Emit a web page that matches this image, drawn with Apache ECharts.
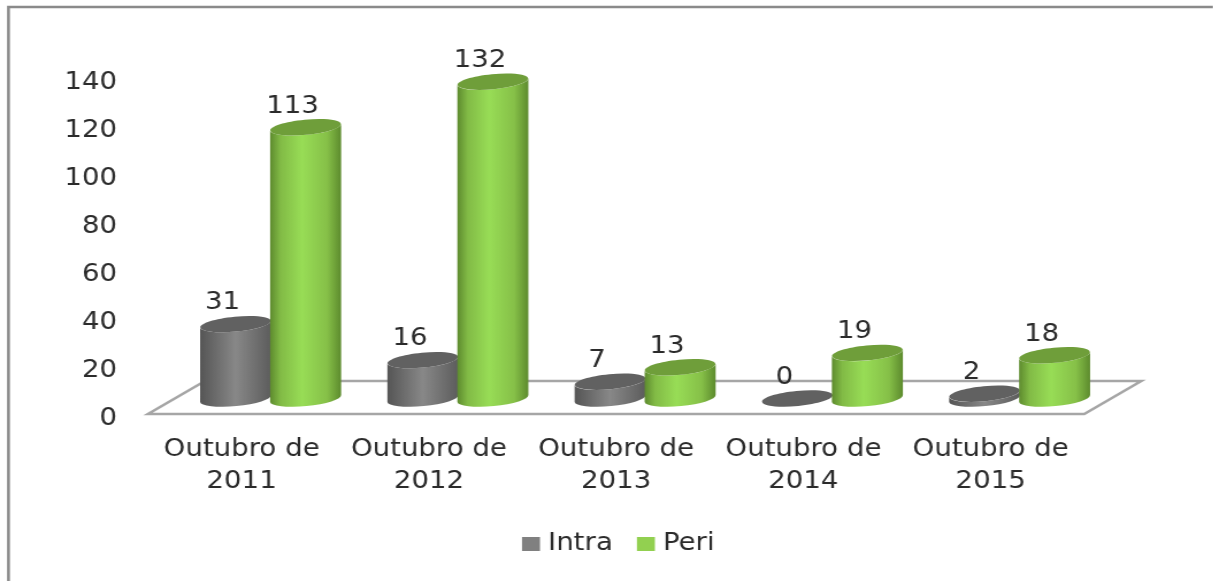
<!DOCTYPE html>
<html><head><meta charset="utf-8">
<style>html,body{margin:0;padding:0;background:#fff;overflow:hidden}
#c{width:1054.8px;height:581px;transform:scaleX(1.15);transform-origin:0 0}</style>
<script src="https://cdn.jsdelivr.net/npm/echarts@6/dist/echarts.min.js"></script>
</head><body><div id="c"></div>
<script>
const categories = ['Outubro de\n2011','Outubro de\n2012','Outubro de\n2013','Outubro de\n2014','Outubro de\n2015'];
const intra = [31,16,7,0,2];
const peri = [113,132,13,19,18];
const FONT = 'DejaVu Sans';
const FS = 24;
const TXT = '#2b2b2b';
const S = 1.15;
const FLOOR_LIFT = 4.5;
const RX = 35.5/S, RY = 7.5, TILT = 3.4, LIFT = 15.5 + FLOOR_LIFT, ROT = 6.3;
const DEPTH_X = 57/S, DEPTH_Y = 33;

function cylinder(xShift, cols){
  return function(params, api){
    const i = api.value(0), v = api.value(1);
    const base = api.coord([i,0]), top = api.coord([i,v]);
    const cx = base[0] + xShift/S, by = base[1]-LIFT, ty = top[1]-LIFT;
    const L = cx-RX, R = cx+RX;
    const children = [];
    if (v > 0) {
      const d = `M${L} ${ty+TILT} L${L} ${by+TILT} A${RX} ${RY} ${-ROT} 0 0 ${R} ${by-TILT} L${R} ${ty-TILT} A${RX} ${RY} ${-ROT} 0 1 ${L} ${ty+TILT} Z`;
      children.push({type:'path', shape:{pathData:d},
        style:{fill:new echarts.graphic.LinearGradient(0,0,1,0,cols.body)}});
    }
    children.push({type:'ellipse', rotation:ROT*Math.PI/180, originX:cx, originY:ty,
      shape:{cx:cx, cy:ty, rx:RX, ry:RY}, style:{fill:cols.top}});
    children.push({type:'text', z2:5, x:cx-13/S, y:ty-21,
      style:{text:String(v), font:FS+'px "'+FONT+'"', fill:TXT, align:'center', verticalAlign:'middle'}});
    return {type:'group', children};
  };
}
const grey = {top:'#616161', body:[{offset:0,color:'#555555'},{offset:.5,color:'#888888'},{offset:1,color:'#5c5c5c'}]};
const green = {top:'#6f9e3a', body:[{offset:0,color:'#5d8a2e'},{offset:.15,color:'#82bb46'},{offset:.45,color:'#98dd56'},{offset:.8,color:'#86c048'},{offset:1,color:'#5c8a2d'}]};

function floor(params, api){
  const half = api.size([1,0])[0]/2;
  const a = api.coord([0,0]), b = api.coord([categories.length-1,0]);
  const x0=a[0]-half, x1=b[0]+half, y=a[1]-FLOOR_LIFT;
  return {type:'polygon', shape:{points:[[x0,y],[x1,y],[x1+DEPTH_X,y-DEPTH_Y],[x0+DEPTH_X,y-DEPTH_Y]]},
    style:{fill:'#ffffff', stroke:'#a6a6a6', lineWidth:2.5}};
}

const chart = echarts.init(document.getElementById('c'), null, {renderer:'canvas'});
chart.setOption({
  animation:false,
  backgroundColor:'#ffffff',
  graphic:[{type:'polyline', silent:true, shape:{points:[[8.5/S,581],[8.5/S,7],[1213/S,7]]}, style:{fill:null, stroke:'#8a8a8a', lineWidth:2.5}}],
  grid:{left:148/S, right:129/S, top:78+FLOOR_LIFT, height:336},
  legend:{left:522/S, top:532, padding:0, itemWidth:18/S, itemHeight:14, itemGap:21, icon:'rect',
    textStyle:{fontFamily:FONT, fontSize:FS, color:TXT, padding:[0,0,0,2]},
    data:['Intra','Peri']},
  xAxis:{type:'category', data:categories, axisLine:{show:false}, axisTick:{show:false},
    axisLabel:{fontFamily:FONT, fontSize:FS, color:TXT, lineHeight:32, margin:20-FLOOR_LIFT, interval:0}},
  yAxis:{type:'value', min:0, max:140, interval:20, axisLine:{show:false}, axisTick:{show:false}, splitLine:{show:false},
    axisLabel:{fontFamily:FONT, fontSize:FS, color:TXT, margin:31/S}},
  series:[
    {type:'custom', name:'floor', silent:true, renderItem:floor, data:[[0,0]], encode:{x:0,y:1}, z:1},
    {type:'custom', name:'Intra', renderItem:cylinder(-6,grey), data:intra.map((v,i)=>[i,v]), encode:{x:0,y:1}, itemStyle:{color:'#808080'}, z:2},
    {type:'custom', name:'Peri', renderItem:cylinder(64,green), data:peri.map((v,i)=>[i,v]), encode:{x:0,y:1}, itemStyle:{color:'#92d050'}, z:3}
  ]
});
</script></body></html>
